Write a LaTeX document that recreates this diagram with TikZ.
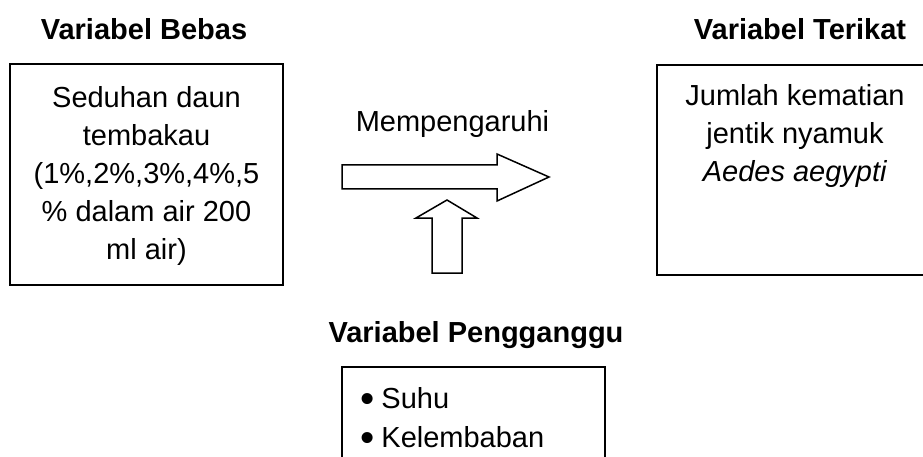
\documentclass[tikz,border=0pt]{standalone}
\usepackage{graphicx}
\usepackage{fontspec}
\setmainfont{Liberation Sans}
\newcommand{\bigbul}{\raisebox{-4.5pt}{\scalebox{1.4}{\textbullet}}\hspace{7pt}}
\begin{document}
\begin{tikzpicture}[x=1pt,y=-1pt,
  box/.style={draw=black,line width=1.8pt},
  blockarrow/.style={draw=black,line width=1.5pt,fill=white,line join=miter},
  txt/.style={inner sep=0pt,font=\fontsize{29}{38}\selectfont},
  head/.style={inner sep=0pt,font=\fontsize{29}{38}\selectfont\bfseries,anchor=base}]
\clip (0,0) rectangle (923,457);
\fill[white] (0,0) rectangle (923,457);
% headers
\node[head] (hbebas) at (144,40) {Variabel Bebas};
\node[head] (hterikat) at (800,40) {Variabel Terikat};
\node[head] (hganggu) at (476,342) {Variabel Pengganggu};
% boxes
\draw[box] (10,64) rectangle (283,285);
\draw[box] (657,65) rectangle (933,275);
\draw[box] (342,367) rectangle (605,480);
% box texts
\node[txt,align=center,anchor=north] (bebas) at (146.5,86)
  {Seduhan daun\\tembakau\\(1\%,2\%,3\%,4\%,5\\\% dalam air 200\\ml air)};
\node[txt,align=center,anchor=north] (terikat) at (795,84)
  {Jumlah kematian\\jentik nyamuk\\\textit{Aedes aegypti}};
\node[txt,align=left,anchor=north west] (ganggu) at (360,387)
  {\bigbul Suhu\\[1pt]\bigbul Kelembaban};
% label
\node[txt,anchor=base] (mempengaruhi) at (452.5,132) {Mempengaruhi};
% block arrows
\draw[blockarrow] (342,165) -- (497,165) -- (497,154) -- (549,177) -- (497,201) -- (497,189) -- (342,189) -- cycle;
\draw[blockarrow] (432,273) -- (432,218) -- (416,218) -- (447,200) -- (477,218) -- (462,218) -- (462,273) -- cycle;
\end{tikzpicture}
\end{document}
